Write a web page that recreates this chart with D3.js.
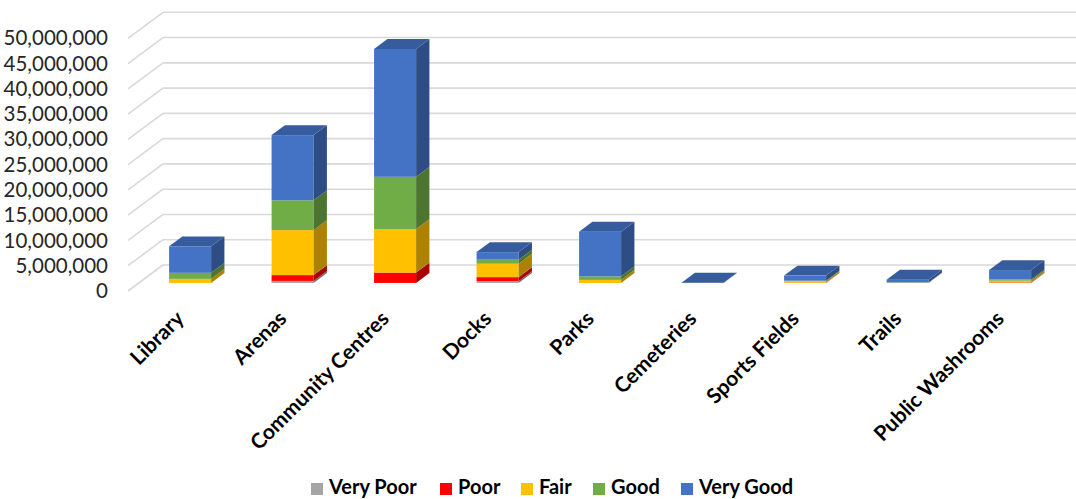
<!DOCTYPE html>
<html>
<head>
<meta charset="utf-8">
<script src="https://cdn.jsdelivr.net/npm/d3@7"></script>
<style>
  html, body { margin: 0; padding: 0; background: #fff; }
  svg { display: block; }
  .tick text { font-family: Lato, "Liberation Sans", sans-serif; }
</style>
</head>
<body>
<svg id="chart" width="1076" height="499"></svg>
<script>
// Facility replacement value by condition rating
const categories = ["Library", "Arenas", "Community Centres", "Docks", "Parks",
                    "Cemeteries", "Sports Fields", "Trails", "Public Washrooms"];
const seriesNames = ["Very Poor", "Poor", "Fair", "Good", "Very Good"];
const seriesColors = ["#A5A5A5", "#FF0000", "#FFC000", "#70AD47", "#4472C4"];

const veryPoor = [0, 400000, 0, 350000, 0, 0, 0, 0, 0];
const poor     = [0, 1150000, 2050000, 800000, 0, 0, 50000, 0, 100000];
const fair     = [800000, 8900000, 8600000, 2650000, 600000, 0, 300000, 50000, 350000];
const good     = [1200000, 5900000, 10350000, 800000, 700000, 0, 100000, 50000, 250000];
const veryGood = [5250000, 12900000, 25300000, 1500000, 8850000, 50000, 1000000, 550000, 1850000];

const yTicks = [0, 5e6, 10e6, 15e6, 20e6, 25e6, 30e6, 35e6, 40e6, 45e6, 50e6];

const seriesValues = [veryPoor, poor, fair, good, veryGood];
const rows = categories.map((c, i) => {
  const r = { category: c };
  seriesNames.forEach((s, k) => { r[s] = seriesValues[k][i]; });
  return r;
});
const stacked = d3.stack().keys(seriesNames)(rows);

const svg = d3.select("#chart");

// front plane of the 3-D box and the offset to its back wall
const left = 128, right = 1050.5;
const wallDx = 35, wallDy = -26;
const barFront = 0.31, barBack = 0.69;   // bar depth inside the box (fraction of wall depth)

const x = d3.scaleBand().domain(categories).range([left, right])
  .paddingInner(0.59).paddingOuter(0.295);
const y = d3.scaleLinear().domain([0, 50e6]).range([291, 38.3]);

// gridlines: back wall horizontals plus side wall diagonals
const grid = svg.append("g").attr("stroke", "#D9D9D9").attr("stroke-width", 1.6).attr("fill", "none");
yTicks.forEach(v => {
  grid.append("line")
    .attr("x1", left + wallDx).attr("x2", 1090)
    .attr("y1", y(v) + wallDy).attr("y2", y(v) + wallDy);
  grid.append("line")
    .attr("x1", left).attr("y1", y(v))
    .attr("x2", left + wallDx).attr("y2", y(v) + wallDy);
});

// value axis labels
const yAxis = svg.append("g")
  .attr("transform", `translate(${left},0)`)
  .call(d3.axisLeft(y).tickValues(yTicks).tickFormat(d3.format(",")).tickSize(0).tickPadding(20));
yAxis.select(".domain").remove();
yAxis.selectAll("text").attr("font-size", 20.5).attr("fill", "#262626");

// 3-D stacked columns
const ox = barFront * wallDx, oy = barFront * wallDy;
const dx = (barBack - barFront) * wallDx, dy = (barBack - barFront) * wallDy;
const w = x.bandwidth();
const bars = svg.append("g");

categories.forEach((c, i) => {
  const g = bars.append("g");
  const x0 = x(c) + ox;
  let topLayer = 0;
  stacked.forEach((layer, k) => {
    const d = layer[i];
    if (d[1] - d[0] <= 0) return;
    topLayer = k;
    const yb = y(d[0]) + oy, yt = y(d[1]) + oy;
    const col = d3.color(seriesColors[k]);
    g.append("rect")
      .attr("x", x0).attr("y", yt)
      .attr("width", w).attr("height", yb - yt)
      .attr("fill", col.formatHex());
    g.append("path")
      .attr("d", `M${x0 + w},${yb}L${x0 + w + dx},${yb + dy}L${x0 + w + dx},${yt + dy}L${x0 + w},${yt}Z`)
      .attr("fill", col.darker(1.1).formatHex());
  });
  const total = stacked[stacked.length - 1][i][1];
  const yt = y(total) + oy;
  g.append("path")
    .attr("d", `M${x0},${yt}L${x0 + w},${yt}L${x0 + w + dx},${yt + dy}L${x0 + dx},${yt + dy}Z`)
    .attr("fill", d3.color(seriesColors[topLayer]).darker(0.6).formatHex());
});

// category labels
const catG = svg.append("g")
  .attr("font-family", "Lato, 'Liberation Sans', sans-serif")
  .attr("font-weight", "bold").attr("font-size", 21).attr("fill", "#000");
categories.forEach(c => {
  const cx = x(c) + w / 2;
  catG.append("text")
    .attr("transform", `translate(${cx + 6},320) rotate(-45)`)
    .attr("text-anchor", "end")
    .text(c);
});

// legend
const legendX = [311, 440, 521, 593, 681];
const legend = svg.append("g")
  .attr("font-family", "Lato, 'Liberation Sans', sans-serif")
  .attr("font-weight", "bold").attr("font-size", 20).attr("fill", "#000");
seriesNames.forEach((s, k) => {
  legend.append("rect")
    .attr("x", legendX[k]).attr("y", 483)
    .attr("width", 12).attr("height", 12)
    .attr("fill", seriesColors[k]);
  legend.append("text")
    .attr("x", legendX[k] + 18).attr("y", 494)
    .text(s);
});
</script>
</body>
</html>
